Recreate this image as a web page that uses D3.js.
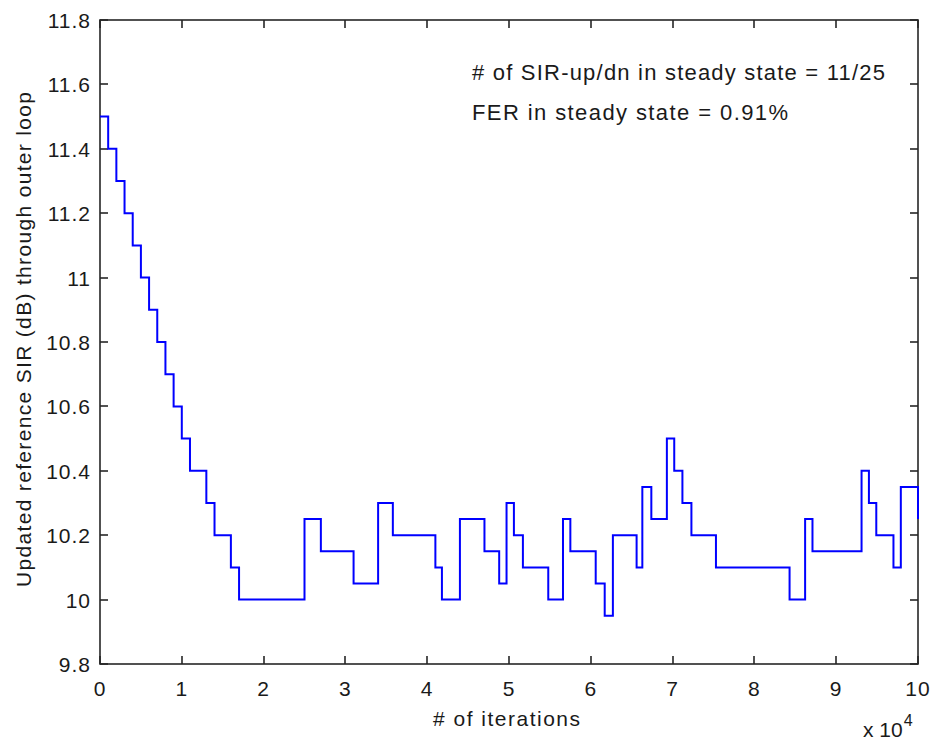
<!DOCTYPE html>
<html><head><meta charset="utf-8">
<script src="https://cdn.jsdelivr.net/npm/d3@7"></script>
<style>body{margin:0;background:#fff}svg{display:block}text{font-family:"Liberation Sans",Arial,sans-serif;fill:#1a1a1a}</style>
</head><body><svg id="c" width="933" height="742"></svg>
<script>
const iterStart = [0,1000,2000,3000,4000,5000,6000,7000,8000,9000,10000,11000,13000,14000,16000,17000,25000,27000,31000,34000,35800,41000,41800,44000,47000,48800,49700,50600,51700,54800,56600,57500,60600,61700,62700,65600,66300,67400,69300,70200,71200,72300,75300,84300,86200,87100,93100,94000,94900,97000,97900,100000];
const sirValues = [11.5,11.4,11.3,11.2,11.1,11.0,10.9,10.8,10.7,10.6,10.5,10.4,10.3,10.2,10.1,10.0,10.25,10.15,10.05,10.3,10.2,10.1,10.0,10.25,10.15,10.05,10.3,10.2,10.1,10.0,10.25,10.15,10.05,9.95,10.2,10.1,10.35,10.25,10.5,10.4,10.3,10.2,10.1,10.0,10.25,10.15,10.4,10.3,10.2,10.1,10.35,10.25];
const xTicks = [0,1,2,3,4,5,6,7,8,9,10];
const yTicks = [9.8,10,10.2,10.4,10.6,10.8,11,11.2,11.4,11.6,11.8];
const annotations = ["# of SIR-up/dn in steady state = 11/25","FER in steady state = 0.91%"];
const annotationWidths = [413,316];

const L=100,R=918,T=20,B=664;
const svg=d3.select("#c");
const x=d3.scaleLinear().domain([0,10]).range([L,R]);
const y=d3.scaleLinear().domain([9.8,11.8]).range([B,T]);
const data=iterStart.map((d,i)=>[d/1e4,sirValues[i]]);

const fs=21;
svg.append("rect").attr("x",L).attr("y",T).attr("width",R-L).attr("height",B-T).attr("fill","none").attr("stroke","#262626").attr("stroke-width",1.6);
const g=svg.append("g").attr("stroke","#262626").attr("stroke-width",1.6);
xTicks.forEach(t=>{const px=Math.round(x(t));
 g.append("line").attr("x1",px).attr("x2",px).attr("y1",B).attr("y2",B-8);
 g.append("line").attr("x1",px).attr("x2",px).attr("y1",T).attr("y2",T+8);});
yTicks.forEach(t=>{const py=Math.round(y(t));
 g.append("line").attr("x1",L).attr("x2",L+8).attr("y1",py).attr("y2",py);
 g.append("line").attr("x1",R).attr("x2",R-8).attr("y1",py).attr("y2",py);});
svg.append("g").selectAll("text").data(xTicks).join("text").attr("x",d=>x(d)).attr("y",696).attr("text-anchor","middle").attr("font-size",fs).attr("letter-spacing",1).text(d=>d);
svg.append("g").selectAll("text").data(yTicks).join("text").attr("x",L-9).attr("y",d=>y(d)+8).attr("text-anchor","end").attr("font-size",fs).attr("letter-spacing",1).text(d=>+d.toFixed(1));
svg.append("text").attr("x",433).attr("y",726).attr("font-size",fs).attr("textLength",147).attr("lengthAdjust","spacing").text("# of iterations");
const ex=svg.append("text").attr("x",863).attr("y",737).attr("font-size",fs);
ex.append("tspan").text("x 10");
ex.append("tspan").attr("dx",1).attr("dy",-11).attr("font-size",16).text("4");
svg.append("text").attr("transform",`translate(31,587) rotate(-90)`).attr("font-size",fs).attr("textLength",495).attr("lengthAdjust","spacing").text("Updated reference SIR (dB) through outer loop");
annotations.forEach((a,i)=>svg.append("text").attr("x",472).attr("y",80+i*40).attr("font-size",22).attr("textLength",annotationWidths[i]).attr("lengthAdjust","spacing").text(a));
svg.append("path").datum(data).attr("fill","none").attr("stroke","#0000ff").attr("stroke-width",2)
 .attr("d",d3.line().x(d=>x(d[0])).y(d=>y(d[1])).curve(d3.curveStepAfter));
</script></body></html>
